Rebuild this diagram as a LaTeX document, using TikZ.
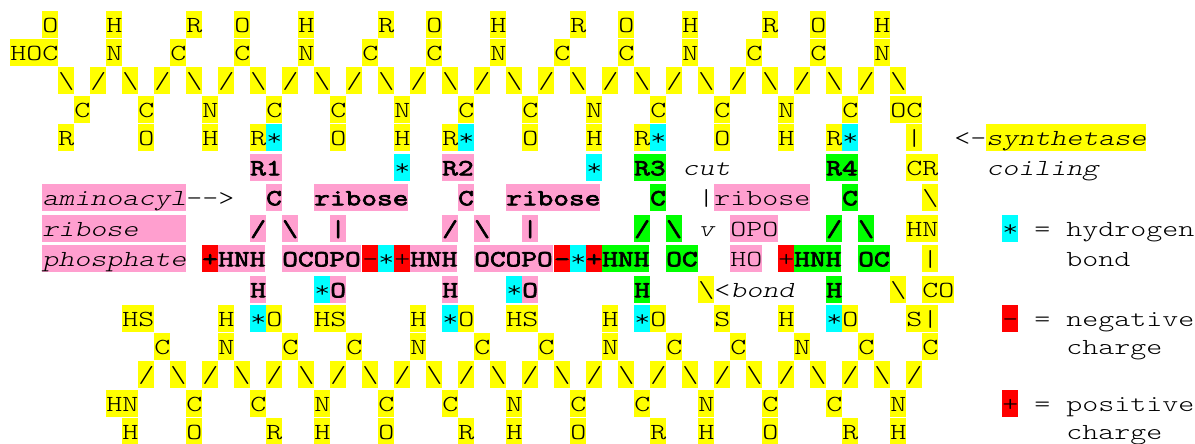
\documentclass[tikz,border=0pt]{standalone}
\usepackage{fontspec}
\setmonofont[FakeStretch=1.325,ItalicFont={Latin Modern Mono Light/I},BoldFont={Latin Modern Mono},BoldFeatures={FakeBold=3}]{Latin Modern Mono Light}
\usepackage{xcolor}
\definecolor{ribpink}{HTML}{FF9FCF}
\definecolor{cellyellow}{HTML}{FFFF00}
\definecolor{cellcyan}{HTML}{00FFFF}
\definecolor{cellgreen}{HTML}{00FF00}
\definecolor{cellred}{HTML}{FF0000}
\newcommand{\bs}{\textbackslash}
\tikzset{
  cell/.style={anchor=north west, inner sep=0pt, text height=21*0.75pt, text depth=6*0.75pt, font=\fontsize{17.25pt}{20pt}\ttfamily},
  ylw/.style={cell, fill=cellyellow},
  cyn/.style={cell, fill=cellcyan},
  pnk/.style={cell, fill=ribpink},
  grn/.style={cell, fill=cellgreen},
  redc/.style={cell, fill=cellred},
  bld/.style={font=\fontsize{17.25pt}{20pt}\ttfamily\bfseries},
  ital/.style={font=\fontsize{17.25pt}{20pt}\ttfamily\itshape}
}

\begin{document}
\begin{tikzpicture}[x=12pt, y=-0.75pt]
  \useasboundingbox (-0.625,0) rectangle (74.0625,443);
  % top strand
  \foreach \c/\lab in {2/O,6/H,11/R,14/O,18/H,23/R,26/O,30/H,35/R,38/O,42/H,47/R,50/O,54/H}
    \node[ylw] (a\c) at (\c,11) {\lab};
  \foreach \c/\lab in {0/HOC,6/N,10/C,14/C,18/N,22/C,26/C,30/N,34/C,38/C,42/N,46/C,50/C,54/N}
    \node[ylw] (b\c) at (\c,39) {\lab};
  \foreach \c in {3,7,...,55}
    \node[ylw] (c\c) at (\c,67) {\bs};
  \foreach \c in {5,9,...,53}
    \node[ylw] (c\c) at (\c,67) {/};
  \foreach \c/\lab in {4/C,8/C,12/N,16/C,20/C,24/N,28/C,32/C,36/N,40/C,44/C,48/N,52/C,55/OC}
    \node[ylw] (d\c) at (\c,96) {\lab};
  \foreach \c/\lab in {3/R,8/O,12/H,15/R,20/O,24/H,27/R,32/O,36/H,39/R,44/O,48/H,51/R,56/|}
    \node[ylw] (e\c) at (\c,124) {\lab};
  \foreach \c in {16,28,40,52}
    \node[cyn] (e\c) at (\c,124) {*};
  \node[cell] (e59) at (59,124) {<-};
  \node[ylw, ital] (e61) at (61,124) {synthetase};
  % R row
  \node[pnk, bld] (f15) at (15,154) {R1};
  \node[cyn] (f24) at (24,154) {*};
  \node[pnk, bld] (f27) at (27,154) {R2};
  \node[cyn] (f36) at (36,154) {*};
  \node[grn, bld] (f39) at (39,154) {R3};
  \node[cell, ital] (f42) at (42,154) {cut};
  \node[grn, bld] (f51) at (51,154) {R4};
  \node[ylw] (f56) at (56,154) {CR};
  \node[cell, ital] (f61) at (61,154) {coiling};
  % ribose row
  \node[pnk, ital] (g2) at (2,184) {aminoacyl};
  \node[cell] (g11) at (11,184) {-{}-{}>};
  \node[pnk, bld] (g16) at (16,184) {C};
  \node[pnk, bld] (g19) at (19,184) {ribose};
  \node[pnk, bld] (g28) at (28,184) {C};
  \node[pnk, bld] (g31) at (31,184) {ribose};
  \node[grn, bld] (g40) at (40,184) {C};
  \node[cell] (g43) at (43,184) {|};
  \node[pnk] (g44) at (44,184) {ribose};
  \node[grn, bld] (g52) at (52,184) {C};
  \node[ylw] (g57) at (57,184) {\bs};
  % bonds
  \node[pnk, ital, text width=108pt] (h2) at (2,215) {ribose};
  \node[pnk, bld] (h15) at (15,215) {/};
  \node[pnk, bld] (h17) at (17,215) {\bs};
  \node[pnk, bld] (h20) at (20,215) {|};
  \node[pnk, bld] (h27) at (27,215) {/};
  \node[pnk, bld] (h29) at (29,215) {\bs};
  \node[pnk, bld] (h32) at (32,215) {|};
  \node[grn, bld] (h39) at (39,215) {/};
  \node[grn, bld] (h41) at (41,215) {\bs};
  \node[cell, ital] (h43) at (43,215) {v};
  \node[pnk] (h45) at (45,215) {OPO};
  \node[grn, bld] (h51) at (51,215) {/};
  \node[grn, bld] (h53) at (53,215) {\bs};
  \node[ylw] (h56) at (56,215) {HN};
  \node[cyn] (h62) at (62,215) {*};
  \node[cell] (h64) at (64,215) {= hydrogen};
  % charges
  \node[pnk, ital] (i2) at (2,245) {phosphate};
  \node[redc, bld] (i12) at (12,245) {+};
  \node[pnk, bld] (i13) at (13,245) {HNH};
  \node[pnk, bld] (i17) at (17,245) {OCOPO};
  \node[redc] (i22) at (22,245) {-};
  \node[cyn] (i23) at (23,245) {*};
  \node[redc] (i24) at (24,245) {+};
  \node[pnk, bld] (i25) at (25,245) {HNH};
  \node[pnk, bld] (i29) at (29,245) {OCOPO};
  \node[redc, bld] (i34) at (34,245) {-};
  \node[cyn] (i35) at (35,245) {*};
  \node[redc, bld] (i36) at (36,245) {+};
  \node[grn, bld] (i37) at (37,245) {HNH};
  \node[grn, bld] (i41) at (41,245) {OC};
  \node[pnk] (i45) at (45,245) {HO};
  \node[redc] (i48) at (48,245) {+};
  \node[grn, bld] (i49) at (49,245) {HNH};
  \node[grn, bld] (i53) at (53,245) {OC};
  \node[ylw] (i57) at (57,245) {|};
  \node[cell] (i66) at (66,245) {bond};
  % H row
  \node[pnk, bld] (j15) at (15,276) {H};
  \node[cyn] (j19) at (19,276) {*};
  \node[pnk, bld] (j20) at (20,276) {O};
  \node[pnk, bld] (j27) at (27,276) {H};
  \node[cyn] (j31) at (31,276) {*};
  \node[pnk, bld] (j32) at (32,276) {O};
  \node[grn, bld] (j39) at (39,276) {H};
  \node[ylw] (j43) at (43,276) {\bs};
  \node[cell] (j44) at (44,276) {<};
  \node[cell, ital] (j45) at (45,276) {bond};
  \node[grn, bld] (j51) at (51,276) {H};
  \node[ylw] (j55) at (55,276) {\bs};
  \node[ylw] (j57) at (57,276) {CO};
  % bottom strand
  \foreach \c/\lab in {7/HS,13/H,16/O,19/HS,25/H,28/O,31/HS,37/H,40/O,44/S,48/H,52/O,56/S|}
    \node[ylw] (k\c) at (\c,305) {\lab};
  \foreach \c in {15,27,39,51}
    \node[cyn] (k\c) at (\c,305) {*};
  \node[redc] (k62) at (62,305) {-};
  \node[cell] (k64) at (64,305) {= negative};
  \foreach \c/\lab in {9/C,13/N,17/C,21/C,25/N,29/C,33/C,37/N,41/C,45/C,49/N,53/C,57/C}
    \node[ylw] (l\c) at (\c,333) {\lab};
  \node[cell] (l66) at (66,333) {charge};
  \foreach \c in {8,12,...,56}
    \node[ylw] (m\c) at (\c,361) {/};
  \foreach \c in {10,14,...,54}
    \node[ylw] (m\c) at (\c,361) {\bs};
  \foreach \c/\lab in {6/HN,11/C,15/C,19/N,23/C,27/C,31/N,35/C,39/C,43/N,47/C,51/C,55/N}
    \node[ylw] (n\c) at (\c,390) {\lab};
  \node[redc] (n62) at (62,390) {+};
  \node[cell] (n64) at (64,390) {= positive};
  \foreach \c/\lab in {7/H,11/O,16/R,19/H,23/O,28/R,31/H,35/O,40/R,43/H,47/O,52/R,55/H}
    \node[ylw] (o\c) at (\c,418) {\lab};
  \node[cell] (o66) at (66,418) {charge};
\end{tikzpicture}
\end{document}
